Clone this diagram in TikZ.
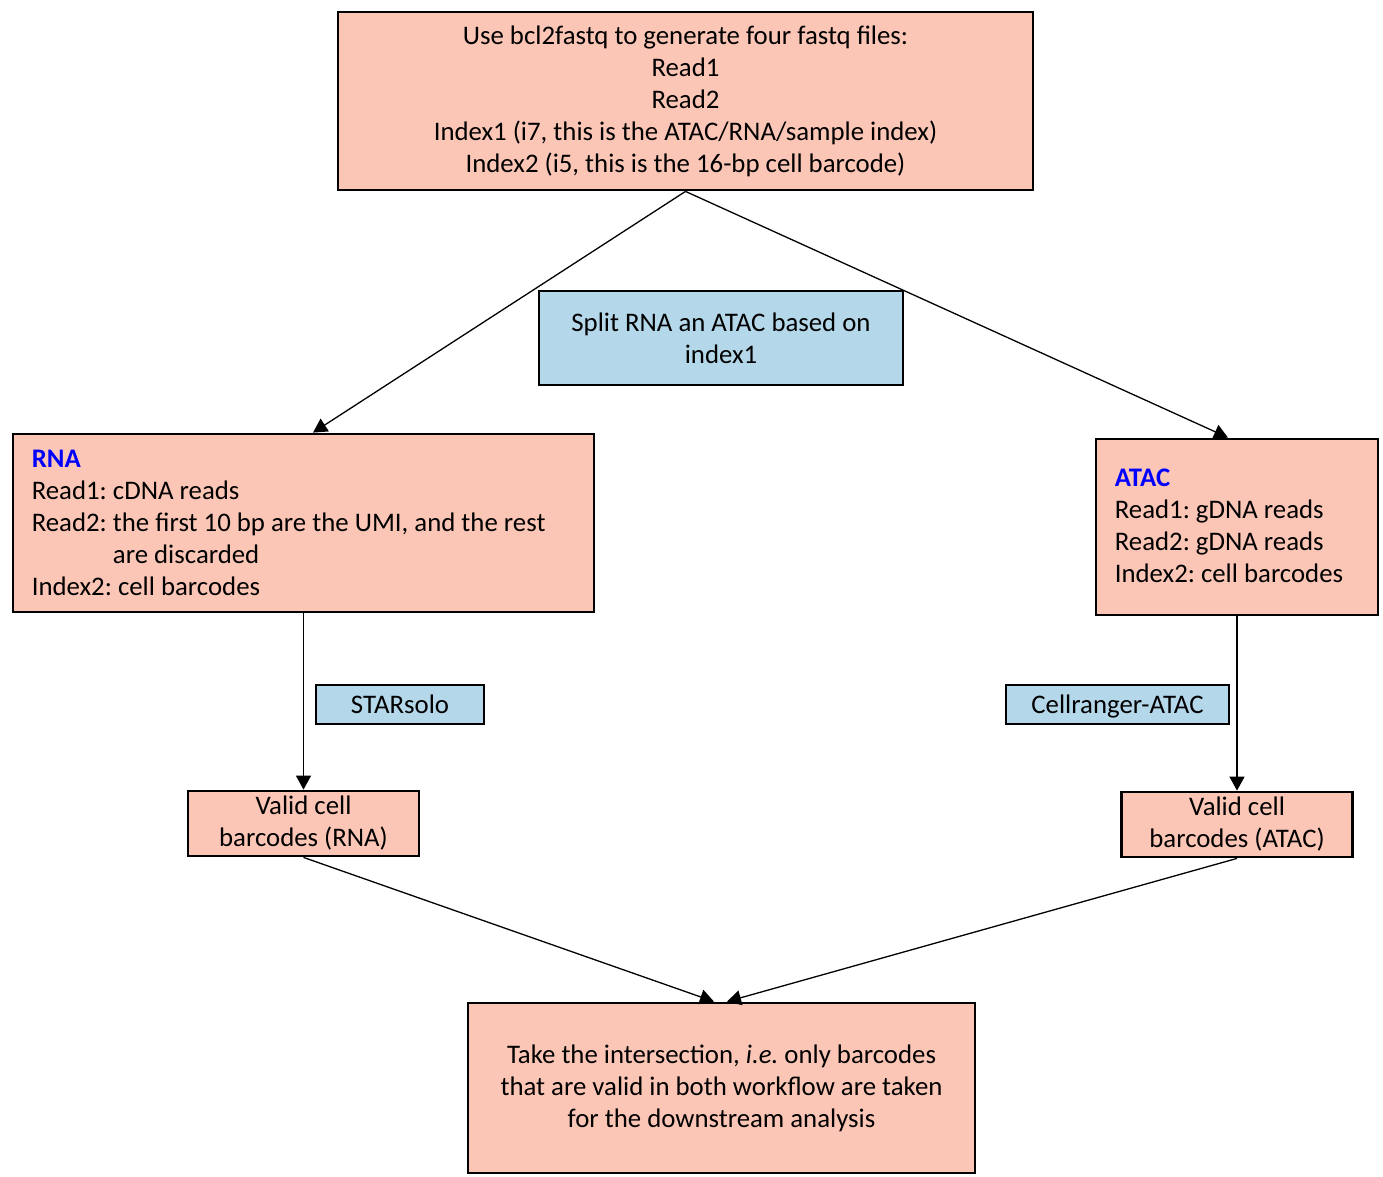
\documentclass[tikz,border=0pt]{standalone}
\usepackage{fontspec}
\setmainfont{Carlito}
\usetikzlibrary{arrows.meta}
\definecolor{salmon}{HTML}{FCC6B6}
\definecolor{skyb}{HTML}{B4D7EA}
\definecolor{pureblue}{RGB}{0,0,255}
\tikzset{
  box/.style={draw=black, line width=2.8pt, fill=salmon, inner sep=0pt, font=\fontsize{26.8}{32}\selectfont\frenchspacing},
  tool/.style={draw=black, line width=2.8pt, fill=skyb, inner sep=0pt, font=\fontsize{26.8}{32}\selectfont\frenchspacing, align=center},
  txt/.style={inner sep=0pt, align=left, anchor=west, font=\fontsize{26.8}{32}\selectfont\frenchspacing},
  arr/.style={line width=1.3pt, -{Triangle[width=15pt,length=14pt]}}
}
\begin{document}
\begin{tikzpicture}[x=1pt,y=-1pt]
\useasboundingbox (0,0) rectangle (1383,1176);
\node[box, minimum width=695pt, minimum height=178pt, align=center] (top) at (685.5,101)
  {Use bcl2fastq to generate four fastq files:\\Read1\\Read2\\Index1 (i7, this is the ATAC/RNA/sample index)\\Index2 (i5, this is the 16-bp cell barcode)};
\node[tool, minimum width=364pt, minimum height=94pt] (split) at (721,338)
  {Split RNA an ATAC based on\\index1};
\node[box, minimum width=581pt, minimum height=178pt] (rna) at (303.5,523) {};
\node[txt] (rnatxt) at ([xshift=20pt]rna.west)
  {\textcolor{pureblue}{\textbf{RNA}}\\Read1: cDNA reads\\Read2: the first 10 bp are the UMI, and the rest\\\phantom{Read2: }are discarded\\Index2: cell barcodes};
\node[box, minimum width=282pt, minimum height=176pt] (atac) at (1237,527) {};
\node[txt] (atactxt) at ([xshift=20pt, yshift=1pt]atac.west)
  {\textcolor{pureblue}{\textbf{ATAC}}\\Read1: gDNA reads\\Read2: gDNA reads\\Index2: cell barcodes};
\node[tool, minimum width=168pt, minimum height=39pt, text height=22pt, text depth=5pt] (star) at (400,704.5) {STARsolo};
\node[tool, minimum width=223pt, minimum height=39pt, text height=22pt, text depth=5pt] (cr) at (1117.5,704.5) {Cellranger-ATAC};
\node[box, minimum width=231pt, minimum height=65pt, align=center] (vrna) at (303.5,823.5) {Valid cell\\barcodes (RNA)};
\node[box, minimum width=231pt, minimum height=65pt, align=center] (vatac) at (1237,824.5) {Valid cell\\barcodes (ATAC)};
\node[box, minimum width=507pt, minimum height=170pt, align=center] (final) at (721.5,1088)
  {Take the intersection, \textit{i.e.} only barcodes\\that are valid in both workflow are taken\\for the downstream analysis};
\draw[arr] (top.south) -- ([xshift=9.5pt]rna.north);
\draw[arr] (top.south) -- ([xshift=-9pt]atac.north);
\draw[arr] (rna.south) -- (vrna.north);
\draw[arr] (atac.south) -- (vatac.north);
\draw[arr] (vrna.south) -- ([xshift=-7.5pt]final.north);
\draw[arr] (vatac.south) -- ([xshift=5.5pt]final.north);
\end{tikzpicture}
\end{document}
